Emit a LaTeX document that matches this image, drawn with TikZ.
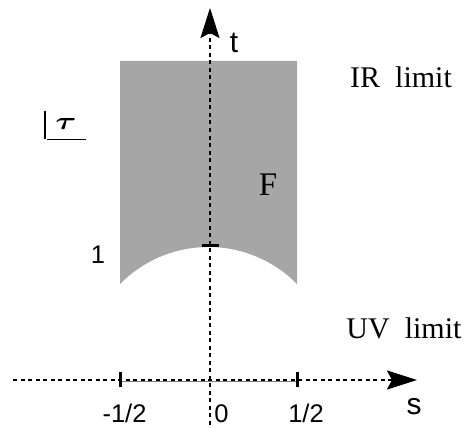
\documentclass[tikz,border=0pt]{standalone}
\usepackage{amsmath}
\usepackage{fontspec}
\setmainfont{Liberation Serif}
\newfontfamily\helv{Liberation Sans}
\usetikzlibrary{arrows.meta}
\definecolor{regiongray}{RGB}{166,166,166}
\tikzset{
  axisline/.style={line width=2.2pt, dash pattern=on 4pt off 3.5pt,
    -{Stealth[length=30pt,width=19pt,inset=5pt]}},
  tickmark/.style={line width=3pt},
  sanslabel/.style={font=\helv\fontsize{25.5}{30}\selectfont, inner sep=0pt, anchor=base},
  axislabel/.style={font=\helv\fontsize{30}{34}\selectfont, inner sep=0pt, anchor=base},
  seriflabel/.style={font=\fontsize{30}{34}\selectfont, inner sep=0pt, anchor=base},
}
\begin{document}
\begin{tikzpicture}[x=1pt,y=-1pt]
\useasboundingbox (0,0) rectangle (472,428);
% fundamental region
\fill[regiongray] (120,61) -- (297,61) -- (297,284)
  arc[start angle=44.6, end angle=135.4, radius=124.3pt] -- cycle;
% axes
\coordinate (hstart) at (13,380);
\coordinate (hend) at (417,380);
\coordinate (vstart) at (210,432);
\coordinate (vend) at (210,8);
\coordinate (mhalf) at (120,380);
\coordinate (phalf) at (297,380);
\draw[gray, line width=1pt] ([yshift=-1pt]mhalf) -- ([yshift=-1pt]phalf);
\draw[axisline] (hstart) -- (hend);
\draw[axisline] (vstart) -- (vend);
% ticks
\draw[tickmark] ([yshift=-7pt]mhalf) -- ([yshift=8pt]mhalf);
\draw[tickmark] ([yshift=-7pt]phalf) -- ([yshift=8pt]phalf);
\coordinate (one) at (210,245);
\draw[line width=3pt] ([xshift=-8pt]one) -- ([xshift=9pt]one);
% labels
\node[axislabel] (tlab) at (234,53) {t};
\node[axislabel] (slab) at (414,414) {s};
\node[sanslabel] (onelab) at (98,263) {1};
\node[sanslabel] (mhlab) at (124.5,422) {-1/2};
\node[sanslabel] (zlab) at (221.5,422) {0};
\node[sanslabel] (phlab) at (306,422) {1/2};
\node[seriflabel] (irlab) at (401,88) {IR\ \ limit};
\node[seriflabel] (uvlab) at (404,338) {UV\ \ limit};
\node[font=\fontsize{33}{38}\selectfont, inner sep=0pt, anchor=base] (flab) at (268,195) {F};
% tau with corner bracket
\node[inner sep=0pt, anchor=base, font=\fontsize{28}{32}\selectfont, xscale=1.3] (taulab) at (66,130) {$\boldsymbol{\tau}$};
\coordinate (brtop) at (45,111);
\coordinate (brcorner) at (45,139);
\coordinate (brstart) at (47,139.5);
\coordinate (brend) at (86,139.5);
\draw[line width=1.3pt] (brtop) -- (brcorner);
\draw[line width=1.3pt] (brstart) -- (brend);
\end{tikzpicture}
\end{document}
